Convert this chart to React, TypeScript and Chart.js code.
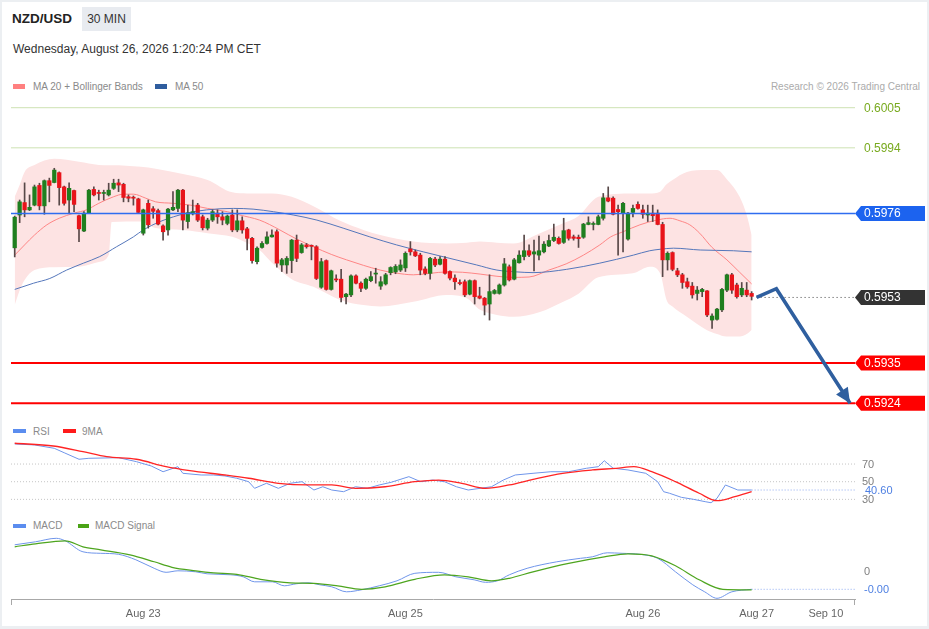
import React, { useEffect, useRef } from 'react';
import { Chart, registerables } from 'chart.js';

Chart.register(...registerables);

const FONT = '"Liberation Sans", Arial, Helvetica, sans-serif';
Chart.defaults.font.family = FONT;

// ---------------- data ----------------
const opens = [
  0.59666, 0.59756, 0.59790, 0.59770, 0.59783, 0.59837, 0.59781, 0.59850, 0.59845, 0.59872,
  0.59833, 0.59797, 0.59823, 0.59754, 0.59712, 0.59762, 0.59826, 0.59817, 0.59815, 0.59811,
  0.59829, 0.59844, 0.59840, 0.59806, 0.59803, 0.59800, 0.59706, 0.59788, 0.59773, 0.59768,
  0.59726, 0.59715, 0.59770, 0.59774, 0.59824, 0.59738, 0.59759, 0.59783, 0.59751, 0.59720,
  0.59742, 0.59761, 0.59751, 0.59733, 0.59756, 0.59715, 0.59740, 0.59718, 0.59692, 0.59628,
  0.59667, 0.59678, 0.59696, 0.59710, 0.59619, 0.59619, 0.59631, 0.59687, 0.59653, 0.59674,
  0.59671, 0.59669, 0.59558, 0.59631, 0.59552, 0.59580, 0.59580, 0.59532, 0.59537, 0.59589,
  0.59569, 0.59555, 0.59576, 0.59594, 0.59561, 0.59567, 0.59598, 0.59600, 0.59605, 0.59611,
  0.59663, 0.59655, 0.59646, 0.59608, 0.59596, 0.59635, 0.59621, 0.59635, 0.59601, 0.59583,
  0.59569, 0.59573, 0.59539, 0.59576, 0.59534, 0.59528, 0.59512, 0.59541, 0.59541, 0.59564,
  0.59614, 0.59580, 0.59625, 0.59642, 0.59658, 0.59649, 0.59646, 0.59655, 0.59671, 0.59686,
  0.59692, 0.59681, 0.59715, 0.59696, 0.59695, 0.59695, 0.59730, 0.59730, 0.59730, 0.59747,
  0.59803, 0.59802, 0.59771, 0.59761, 0.59690, 0.59763, 0.59785, 0.59770, 0.59756, 0.59761,
  0.59761, 0.59730, 0.59633, 0.59653, 0.59603, 0.59592, 0.59573, 0.59561, 0.59541, 0.59546,
  0.59548, 0.59468, 0.59470, 0.59496, 0.59550, 0.59592, 0.59564, 0.59537, 0.59550, 0.59541,
];
const highs = [
  0.59753, 0.59797, 0.59844, 0.59811, 0.59838, 0.59843, 0.59852, 0.59857, 0.59884, 0.59874,
  0.59835, 0.59844, 0.59824, 0.59756, 0.59765, 0.59826, 0.59833, 0.59824, 0.59824, 0.59843,
  0.59854, 0.59854, 0.59843, 0.59811, 0.59808, 0.59802, 0.59772, 0.59797, 0.59779, 0.59772,
  0.59729, 0.59774, 0.59820, 0.59826, 0.59826, 0.59783, 0.59797, 0.59788, 0.59756, 0.59747,
  0.59770, 0.59770, 0.59765, 0.59756, 0.59770, 0.59770, 0.59751, 0.59722, 0.59695, 0.59669,
  0.59683, 0.59710, 0.59715, 0.59715, 0.59637, 0.59642, 0.59689, 0.59701, 0.59678, 0.59678,
  0.59674, 0.59672, 0.59637, 0.59633, 0.59605, 0.59592, 0.59607, 0.59541, 0.59592, 0.59592,
  0.59573, 0.59583, 0.59601, 0.59610, 0.59587, 0.59596, 0.59614, 0.59620, 0.59633, 0.59655,
  0.59683, 0.59660, 0.59651, 0.59614, 0.59640, 0.59640, 0.59642, 0.59642, 0.59603, 0.59592,
  0.59578, 0.59578, 0.59578, 0.59578, 0.59558, 0.59530, 0.59592, 0.59552, 0.59567, 0.59637,
  0.59619, 0.59637, 0.59658, 0.59701, 0.59674, 0.59687, 0.59698, 0.59683, 0.59701, 0.59731,
  0.59696, 0.59747, 0.59717, 0.59701, 0.59701, 0.59733, 0.59751, 0.59737, 0.59756, 0.59815,
  0.59833, 0.59806, 0.59783, 0.59791, 0.59763, 0.59783, 0.59792, 0.59783, 0.59783, 0.59783,
  0.59770, 0.59736, 0.59655, 0.59655, 0.59610, 0.59596, 0.59583, 0.59571, 0.59560, 0.59555,
  0.59549, 0.59485, 0.59500, 0.59555, 0.59594, 0.59596, 0.59569, 0.59571, 0.59571, 0.59546,
];
const lows = [
  0.59641, 0.59735, 0.59751, 0.59768, 0.59781, 0.59770, 0.59758, 0.59792, 0.59844, 0.59783,
  0.59783, 0.59761, 0.59765, 0.59683, 0.59710, 0.59761, 0.59808, 0.59797, 0.59797, 0.59808,
  0.59826, 0.59820, 0.59792, 0.59792, 0.59783, 0.59761, 0.59701, 0.59720, 0.59747, 0.59729,
  0.59687, 0.59701, 0.59768, 0.59765, 0.59715, 0.59720, 0.59756, 0.59738, 0.59715, 0.59715,
  0.59738, 0.59733, 0.59729, 0.59729, 0.59710, 0.59710, 0.59706, 0.59660, 0.59624, 0.59622,
  0.59665, 0.59676, 0.59695, 0.59613, 0.59601, 0.59596, 0.59598, 0.59628, 0.59651, 0.59665,
  0.59633, 0.59579, 0.59555, 0.59550, 0.59550, 0.59573, 0.59518, 0.59512, 0.59532, 0.59567,
  0.59546, 0.59552, 0.59573, 0.59569, 0.59552, 0.59564, 0.59592, 0.59595, 0.59601, 0.59601,
  0.59646, 0.59642, 0.59592, 0.59592, 0.59580, 0.59614, 0.59619, 0.59594, 0.59578, 0.59552,
  0.59564, 0.59532, 0.59537, 0.59512, 0.59526, 0.59482, 0.59468, 0.59539, 0.59539, 0.59561,
  0.59575, 0.59578, 0.59624, 0.59633, 0.59642, 0.59603, 0.59633, 0.59652, 0.59669, 0.59683,
  0.59676, 0.59678, 0.59687, 0.59687, 0.59667, 0.59692, 0.59729, 0.59715, 0.59729, 0.59742,
  0.59792, 0.59756, 0.59646, 0.59655, 0.59687, 0.59751, 0.59772, 0.59747, 0.59738, 0.59738,
  0.59729, 0.59587, 0.59605, 0.59603, 0.59587, 0.59555, 0.59555, 0.59528, 0.59523, 0.59532,
  0.59477, 0.59445, 0.59468, 0.59491, 0.59546, 0.59541, 0.59528, 0.59532, 0.59532, 0.59523,
];
const closes = [
  0.59750, 0.59792, 0.59770, 0.59777, 0.59833, 0.59781, 0.59850, 0.59837, 0.59879, 0.59831,
  0.59788, 0.59829, 0.59785, 0.59718, 0.59761, 0.59824, 0.59811, 0.59815, 0.59816, 0.59824,
  0.59843, 0.59838, 0.59804, 0.59802, 0.59802, 0.59763, 0.59770, 0.59729, 0.59766, 0.59731,
  0.59710, 0.59772, 0.59777, 0.59824, 0.59742, 0.59762, 0.59765, 0.59742, 0.59721, 0.59742,
  0.59765, 0.59751, 0.59742, 0.59753, 0.59715, 0.59740, 0.59715, 0.59692, 0.59631, 0.59665,
  0.59678, 0.59696, 0.59701, 0.59624, 0.59633, 0.59637, 0.59687, 0.59637, 0.59674, 0.59669,
  0.59670, 0.59582, 0.59628, 0.59552, 0.59603, 0.59578, 0.59530, 0.59539, 0.59589, 0.59569,
  0.59555, 0.59580, 0.59587, 0.59595, 0.59573, 0.59592, 0.59612, 0.59615, 0.59619, 0.59651,
  0.59655, 0.59644, 0.59605, 0.59596, 0.59637, 0.59619, 0.59635, 0.59596, 0.59583, 0.59573,
  0.59568, 0.59537, 0.59576, 0.59532, 0.59528, 0.59509, 0.59546, 0.59549, 0.59564, 0.59622,
  0.59578, 0.59633, 0.59646, 0.59658, 0.59646, 0.59655, 0.59658, 0.59676, 0.59686, 0.59695,
  0.59678, 0.59713, 0.59692, 0.59692, 0.59691, 0.59731, 0.59735, 0.59731, 0.59751, 0.59803,
  0.59794, 0.59758, 0.59765, 0.59788, 0.59761, 0.59774, 0.59774, 0.59758, 0.59761, 0.59754,
  0.59730, 0.59633, 0.59651, 0.59607, 0.59592, 0.59571, 0.59559, 0.59537, 0.59550, 0.59552,
  0.59482, 0.59479, 0.59498, 0.59552, 0.59592, 0.59550, 0.59532, 0.59555, 0.59537, 0.59533,
];

// [candle index, value]
const ma20: [number, number][] = [
  [0, 0.59646], [2, 0.59674], [4, 0.59701], [6.5, 0.59729], [9, 0.59747], [12, 0.59761], [14.5, 0.5977],
  [17, 0.59788], [20, 0.59806], [22, 0.59813], [24, 0.59813], [26.5, 0.59802], [28.5, 0.59792], [32, 0.59788],
  [35.5, 0.59783], [39, 0.59774], [43, 0.59765], [45.5, 0.59756], [49.5, 0.59742], [51.5, 0.5973], [53.6, 0.59715],
  [57, 0.5969], [60.4, 0.59669], [64, 0.59648], [67.1, 0.59633], [70.5, 0.59618], [73.9, 0.59605], [77, 0.59597],
  [80.6, 0.59592], [84, 0.59596], [87.3, 0.596], [90.5, 0.59599], [94.1, 0.59594], [97.5, 0.59588], [100.8, 0.59585],
  [104, 0.59586], [108, 0.59605], [111.5, 0.59622], [115, 0.59646], [118.3, 0.59674], [120.5, 0.59696], [123, 0.5971],
  [126.4, 0.59729], [129.8, 0.59742], [132.5, 0.59747], [134.5, 0.5974], [136.5, 0.59729], [138.5, 0.59706],
  [141, 0.59667], [144, 0.59633], [146.5, 0.596], [149, 0.59567],
];
const ma50: [number, number][] = [
  [0, 0.59552], [3.8, 0.59569], [7.1, 0.59582], [10.5, 0.59605], [13.9, 0.59624], [17.2, 0.59642], [20.6, 0.59669],
  [24, 0.59696], [26, 0.59715], [29.4, 0.59738], [32.1, 0.59751], [34.8, 0.59761], [38.8, 0.5977], [44.2, 0.59774],
  [48.2, 0.59772], [52.3, 0.59765], [56.3, 0.59756], [61.1, 0.59742], [66.4, 0.5972], [71.8, 0.59696], [77.2, 0.59674],
  [82.6, 0.59655], [88, 0.59637], [93.4, 0.59619], [97.5, 0.59605], [101.5, 0.596], [104.8, 0.59598], [111.6, 0.59607],
  [118.3, 0.59624], [125.1, 0.59646], [128.4, 0.59658], [130.5, 0.59662], [133.2, 0.59665], [138.6, 0.5966],
  [145.3, 0.59658], [149, 0.59655],
];
const bandIdx = [
  0, 1, 2, 4, 8, 13, 17, 19, 19.6, 25.5, 28.5, 34, 39, 44, 47, 49.5, 52, 56, 60.4, 65.8, 70.5, 73.9,
  80.6, 87.3, 91.4, 94.1, 97.5, 100.8, 106.2, 110.9, 114, 118, 125, 128.4, 130.5, 131.8, 133, 135.9,
  139.9, 142, 143.9, 146.6, 148, 149,
];
const bandUpper = [
  0.59806, 0.59838, 0.59874, 0.59893, 0.5991, 0.59902, 0.59893, 0.59892, 0.59892, 0.59888, 0.59883, 0.59868,
  0.59852, 0.59818, 0.59815, 0.59815, 0.59815, 0.59806, 0.5978, 0.5974, 0.59715, 0.59701, 0.59683, 0.59678,
  0.5968, 0.59683, 0.5968, 0.59678, 0.59706, 0.59733, 0.59753, 0.59806, 0.59815, 0.59815, 0.5982, 0.5984,
  0.59852, 0.59874, 0.59879, 0.59879, 0.59855, 0.59805, 0.59756, 0.59701,
];
const bandLower = [
  0.59509, 0.5955, 0.59578, 0.59605, 0.59613, 0.59614, 0.59627, 0.59646, 0.59737, 0.59738, 0.5972, 0.59715,
  0.59706, 0.59696, 0.59679, 0.5966, 0.59625, 0.5958, 0.59559, 0.59523, 0.59509, 0.59505, 0.59518, 0.59537,
  0.59528, 0.59496, 0.59482, 0.59477, 0.5949, 0.59518, 0.5954, 0.59585, 0.59596, 0.59614, 0.59596, 0.59523,
  0.59505, 0.59477, 0.59441, 0.5943, 0.59423, 0.59423, 0.5943, 0.59441,
];
const rsi: [number, number][] = [
  [0, 92.7], [4, 91.6], [8, 87.8], [10, 82.8], [13, 75.4], [15, 76.5], [21, 77.2], [24.6, 72.7], [27.6, 67.8],
  [30, 61.3], [33, 67.0], [34, 59.5], [37.7, 57.6], [40.2, 57.6], [42.5, 56.5], [44.9, 53.9], [47.3, 50.0],
  [48.5, 42.5], [50.9, 48.2], [53.3, 42.5], [55.7, 48.2], [58.1, 50.0], [60.5, 40.6], [62.3, 44.3], [64.1, 40.6],
  [66.5, 38.7], [68.9, 44.3], [71.3, 42.5], [73.7, 46.3], [76.1, 49.3], [79.7, 55.7], [82.1, 50.0], [84.5, 51.9],
  [86.9, 50.0], [89.3, 44.3], [91.7, 40.6], [94.1, 42.5], [96.4, 44.3], [98.8, 51.9], [101.2, 57.6], [104.8, 59.5],
  [108.4, 61.3], [112, 61.3], [115.6, 65.2], [118, 67.0], [119.2, 73.8], [121, 65.2], [124, 63.3], [127.6, 59.5],
  [130, 50.0], [131.2, 38.7], [132.4, 36.9], [134.8, 32.3], [137.2, 30.1], [139.6, 27.4], [140.8, 26.2], [142, 31.2],
  [143.7, 46.3], [146.2, 40.6], [149, 40.6],
];
const rsiMa: [number, number][] = [
  [0, 93.5], [7.8, 90.4], [13.8, 84.0], [18.6, 78.3], [24.6, 75.4], [30.6, 67.0], [35.4, 62.5], [42.5, 57.6],
  [47.3, 53.9], [53.3, 48.2], [59.3, 46.3], [64.1, 46.3], [68.9, 42.5], [74.9, 44.3], [80.9, 50.0], [85.7, 51.9],
  [90.4, 48.2], [95.2, 42.5], [100, 46.3], [104.8, 52.7], [110.8, 59.5], [116.8, 63.3], [121.6, 65.2], [125.2, 67.0],
  [128.8, 61.3], [133.6, 50.0], [138.4, 36.9], [142, 28.5], [145.6, 33.0], [149, 38.7],
];
const macd: [number, number][] = [
  [0, 0.00055], [4.2, 0.00061], [8.4, 0.00068], [10.2, 0.00063], [13.8, 0.00041], [17.4, 0.00038], [21, 0.00036],
  [24.5, 0.00025], [28.2, 0.00008], [30.6, 0.0], [33, 0.00003], [36.6, 0.00001], [38.9, -0.00003], [43.7, -0.00005],
  [46.2, -0.00009], [48.5, -0.00019], [52.1, -0.00019], [54.5, -0.00027], [56.9, -0.00023], [59.3, -0.00021],
  [61.7, -0.00025], [64.1, -0.00029], [67.1, -0.00039], [70.1, -0.00035], [73.7, -0.00027], [77.3, -0.00017],
  [80.9, -0.00002], [85.7, 0.0], [89.2, -0.00009], [92.9, -0.00015], [95.2, -0.0002], [97.6, -0.00017], [100, -0.00005],
  [103.6, 0.00008], [109.6, 0.00021], [114.4, 0.00028], [116.8, 0.00031], [119.8, 0.00039], [122.8, 0.00038],
  [126.4, 0.00036], [130, 0.00028], [133.6, 0.00001], [137.1, -0.00025], [139.5, -0.00039], [142, -0.00052],
  [145, -0.00039], [149, -0.00034],
];
const macdSignal: [number, number][] = [
  [0, 0.00051], [4.2, 0.00057], [10.2, 0.00063], [13.8, 0.00051], [17.4, 0.00045], [23.3, 0.00035], [28.2, 0.00021],
  [31.8, 0.0001], [36.6, 0.00003], [40.2, -0.00001], [44.9, -0.00004], [49.7, -0.00014], [55.7, -0.00021],
  [60.5, -0.00022], [65.3, -0.00027], [70.1, -0.00034], [74.9, -0.00029], [80.9, -0.00014], [86.9, -0.00005],
  [91.7, -0.00009], [96.4, -0.00017], [100, -0.00012], [104.8, 0.00001], [112, 0.00018], [119.2, 0.00031],
  [124, 0.00037], [128.8, 0.00033], [133.6, 0.00013], [138.4, -0.00015], [143.2, -0.00034], [149, -0.00035],
];

const resistanceLevels = [0.6005, 0.5994];
const pivotLevel = 0.5976;
const lastPriceLevel = 0.5953;
const supportLevels = [0.5935, 0.5924];
const forecastPath: [number, number][] = [[150, 0.5953], [154, 0.59554], [168.9, 0.5924]];
const rsiLevels = [70, 50, 30];
const tickIndex = [26, 79, 127, 150, 164];
const tickLabels = ['Aug 23', 'Aug 25', 'Aug 26', 'Aug 27', 'Sep 10'];

// ---------------- layout / style ----------------
const X_MIN = -0.75;
const X_MAX = 169.9;
const PAD = { left: 11, right: 74, top: 0, bottom: 0 };
const GREEN = '#1f7f1f';
const RED = '#e8141a';
const WICK = '#584848';
const ARROW = '#2f5f9f';
const BLUE_IND = '#6f95ea';

const pts = (a: [number, number][]) => a.map(([x, y]) => ({ x, y }));
const hline = (v: number, x0 = X_MIN) => [{ x: x0, y: v }, { x: X_MAX, y: v }];
const lineDs = (data: any, color: string, width: number, order: number, extra: any = {}) => ({
  type: 'line', data, borderColor: color, borderWidth: width, pointRadius: 0, fill: false, order, ...extra,
});

const baseOptions = (ymin: number, ymax: number) => ({
  animation: false,
  responsive: true,
  maintainAspectRatio: false,
  events: [],
  layout: { padding: PAD },
  plugins: { legend: { display: false }, tooltip: { enabled: false } },
  scales: {
    x: { type: 'linear', min: X_MIN, max: X_MAX, display: false, offset: false },
    y: { min: ymin, max: ymax, display: false },
  },
});

function drawTag(ctx: CanvasRenderingContext2D, x: number, y: number, color: string, text: string) {
  ctx.fillStyle = color;
  ctx.beginPath();
  ctx.moveTo(x, y);
  ctx.lineTo(x + 6, y - 7.5);
  ctx.lineTo(x + 70, y - 7.5);
  ctx.lineTo(x + 70, y + 7.5);
  ctx.lineTo(x + 6, y + 7.5);
  ctx.closePath();
  ctx.fill();
  ctx.fillStyle = '#ffffff';
  ctx.fillText(text, x + 9, y + 0.5);
}

const mainOverlay = {
  id: 'mainOverlay',
  afterDraw(chart: any) {
    const { ctx, chartArea, scales } = chart;
    const ys = scales.y;
    const xs = scales.x;
    const r = chartArea.right;
    ctx.save();
    ctx.font = `12px ${FONT}`;
    ctx.textBaseline = 'middle';
    ctx.textAlign = 'left';
    resistanceLevels.forEach((v) => {
      ctx.fillStyle = '#79aa1f';
      ctx.fillText(v.toFixed(4), r + 9, ys.getPixelForValue(v) + 0.5);
    });
    drawTag(ctx, r, ys.getPixelForValue(pivotLevel), '#1c63ef', pivotLevel.toFixed(4));
    drawTag(ctx, r, ys.getPixelForValue(lastPriceLevel), '#333333', lastPriceLevel.toFixed(4));
    supportLevels.forEach((v) => drawTag(ctx, r, ys.getPixelForValue(v), '#ff0000', v.toFixed(4)));
    // arrow head of forecast
    const n = forecastPath.length;
    const ax = xs.getPixelForValue(forecastPath[n - 2][0]);
    const ay = ys.getPixelForValue(forecastPath[n - 2][1]);
    const bx = xs.getPixelForValue(forecastPath[n - 1][0]);
    const by = ys.getPixelForValue(forecastPath[n - 1][1]);
    const ang = Math.atan2(by - ay, bx - ax);
    const L = 15;
    const H = 7;
    const cx = bx - L * Math.cos(ang);
    const cy = by - L * Math.sin(ang);
    ctx.fillStyle = ARROW;
    ctx.beginPath();
    ctx.moveTo(bx, by);
    ctx.lineTo(cx + H * Math.sin(ang), cy - H * Math.cos(ang));
    ctx.lineTo(cx - H * Math.sin(ang), cy + H * Math.cos(ang));
    ctx.closePath();
    ctx.fill();
    ctx.restore();
  },
};

const rsiOverlay = {
  id: 'rsiOverlay',
  afterDraw(chart: any) {
    const { ctx, chartArea, scales } = chart;
    const r = chartArea.right;
    ctx.save();
    ctx.font = `11px ${FONT}`;
    ctx.textBaseline = 'middle';
    ctx.fillStyle = '#808080';
    rsiLevels.forEach((v) => ctx.fillText(String(v), r + 7, scales.y.getPixelForValue(v) + 0.5));
    const last = rsi[rsi.length - 1][1];
    ctx.fillStyle = '#4d7fe2';
    ctx.fillText(last.toFixed(2), r + 10, scales.y.getPixelForValue(last) + 0.5);
    ctx.restore();
  },
};

const macdOverlay = {
  id: 'macdOverlay',
  afterDraw(chart: any) {
    const { ctx, chartArea, scales } = chart;
    const r = chartArea.right;
    ctx.save();
    ctx.font = `11px ${FONT}`;
    ctx.textBaseline = 'middle';
    ctx.fillStyle = '#808080';
    ctx.fillText('0', r + 9, scales.y.getPixelForValue(0));
    const last = macd[macd.length - 1][1];
    ctx.fillStyle = '#4d7fe2';
    ctx.fillText(last.toFixed(2), r + 9, scales.y.getPixelForValue(last) + 0.5);
    // axis end ticks
    ctx.strokeStyle = '#a8a8a8';
    ctx.lineWidth = 1;
    ctx.beginPath();
    [chartArea.left + 0.5, chartArea.right - 0.5].forEach((x) => {
      ctx.moveTo(x, chartArea.bottom);
      ctx.lineTo(x, chartArea.bottom + 6);
    });
    ctx.stroke();
    ctx.restore();
  },
};

function mainConfig(): any {
  const wickData = opens.map((_, i) => ({ x: i, y: [lows[i], highs[i]] }));
  const bodyData = opens.map((o, i) => ({ x: i, y: [o, closes[i]] }));
  const bodyColors = opens.map((o, i) => (closes[i] >= o ? GREEN : RED));
  return {
    type: 'bar',
    data: {
      datasets: [
        lineDs(bandIdx.map((x, i) => ({ x, y: bandUpper[i] })), 'rgba(0,0,0,0)', 0, 30, {
          fill: '+1', backgroundColor: '#fde3e3', cubicInterpolationMode: 'monotone',
        }),
        lineDs(bandIdx.map((x, i) => ({ x, y: bandLower[i] })), 'rgba(0,0,0,0)', 0, 30, {
          cubicInterpolationMode: 'monotone',
        }),
        lineDs(pts(ma50), '#5577bb', 1, 20, { cubicInterpolationMode: 'monotone' }),
        lineDs(pts(ma20), '#ff8686', 1, 20, { cubicInterpolationMode: 'monotone' }),
        {
          type: 'bar', data: wickData, backgroundColor: WICK, barThickness: 1, grouped: false, order: 12,
        },
        {
          type: 'bar', data: bodyData, backgroundColor: bodyColors, barThickness: 3.6, grouped: false,
          minBarLength: 1, order: 11,
        },
        ...resistanceLevels.map((v) => lineDs(hline(v), '#cde2b2', 1, 5)),
        lineDs(hline(pivotLevel), '#2f6df0', 1.5, 5),
        ...supportLevels.map((v) => lineDs(hline(v), '#ff0000', 2, 5)),
        lineDs(hline(lastPriceLevel, forecastPath[0][0]), '#444444', 1, 4, { borderDash: [1, 3] }),
        lineDs(pts(forecastPath), ARROW, 3.6, 1, { borderJoinStyle: 'miter' }),
      ],
    },
    options: baseOptions(0.592078, 0.600766),
    plugins: [mainOverlay],
  };
}

function rsiConfig(): any {
  const last = rsi[rsi.length - 1];
  return {
    type: 'line',
    data: {
      datasets: [
        ...rsiLevels.map((v) => lineDs(hline(v), '#c6c6c6', 1, 10, { borderDash: [1, 2] })),
        lineDs(hline(last[1], last[0]), '#8eaaf0', 1, 9, { borderDash: [1, 2] }),
        lineDs(pts(rsi), BLUE_IND, 1, 3),
        lineDs(pts(rsiMa), '#ff2424', 1.3, 2, { cubicInterpolationMode: 'monotone' }),
      ],
    },
    options: baseOptions(22.5, 100.6),
    plugins: [rsiOverlay],
  };
}

function macdConfig(): any {
  const last = macd[macd.length - 1];
  const opts: any = baseOptions(-0.000534, 0.000786);
  opts.scales.x = {
    type: 'linear',
    min: X_MIN,
    max: X_MAX,
    offset: false,
    display: true,
    grid: { display: false, drawTicks: false },
    border: { display: true, color: '#a8a8a8', width: 1 },
    afterBuildTicks: (scale: any) => {
      scale.ticks = tickIndex.map((value) => ({ value }));
    },
    afterFit: (scale: any) => {
      scale.height = 30;
    },
    ticks: {
      autoSkip: false,
      maxRotation: 0,
      padding: 8,
      color: '#666666',
      font: { size: 11, family: FONT },
      callback: (_v: any, idx: number) => tickLabels[idx],
    },
  };
  return {
    type: 'line',
    data: {
      datasets: [
        lineDs(hline(last[1], last[0]), '#8eaaf0', 1, 9, { borderDash: [1, 2] }),
        lineDs(pts(macd), BLUE_IND, 1, 3, { cubicInterpolationMode: 'monotone' }),
        lineDs(pts(macdSignal), '#4ea51f', 1.2, 2, { cubicInterpolationMode: 'monotone' }),
      ],
    },
    options: opts,
    plugins: [macdOverlay],
  };
}

const abs = (s: React.CSSProperties): React.CSSProperties => ({ position: 'absolute', whiteSpace: 'nowrap', ...s });

function Swatch({ left, top, color, w = 12, h = 5 }: { left: number; top: number; color: string; w?: number; h?: number }) {
  return <div style={abs({ left, top, width: w, height: h, background: color })} />;
}

function LegendText({ left, top, children }: { left: number; top: number; children: React.ReactNode }) {
  return (
    <div style={abs({ left, top, fontSize: 10, lineHeight: '14px', color: '#8a8a8a' })}>{children}</div>
  );
}

export default function App() {
  const mainRef = useRef<HTMLCanvasElement>(null);
  const rsiRef = useRef<HTMLCanvasElement>(null);
  const macdRef = useRef<HTMLCanvasElement>(null);

  useEffect(() => {
    const charts = [
      new Chart(mainRef.current as HTMLCanvasElement, mainConfig()),
      new Chart(rsiRef.current as HTMLCanvasElement, rsiConfig()),
      new Chart(macdRef.current as HTMLCanvasElement, macdConfig()),
    ];
    return () => charts.forEach((c) => c.destroy());
  }, []);

  return (
    <div
      style={{
        position: 'absolute', left: 0, top: 0, width: 929, height: 629, background: '#ffffff',
        fontFamily: FONT, overflow: 'hidden',
      }}
    >
      <div style={abs({ left: 12, top: 11, fontSize: 13.5, fontWeight: 700, lineHeight: '16px', color: '#222' })}>
        NZD/USD
      </div>
      <div
        style={abs({
          left: 82, top: 7, width: 49, height: 24, background: '#e8ebf0', fontSize: 12, lineHeight: '24px',
          textAlign: 'center', color: '#333',
        })}
      >
        30 MIN
      </div>
      <div style={abs({ left: 13, top: 41, fontSize: 12, lineHeight: '16px', color: '#333' })}>
        Wednesday, August 26, 2026 1:20:24 PM CET
      </div>

      <Swatch left={13} top={84} color="#ff8080" />
      <LegendText left={33} top={80}>MA 20 + Bollinger Bands</LegendText>
      <Swatch left={155} top={84} color="#2f5d9e" />
      <LegendText left={175} top={80}>MA 50</LegendText>
      <div style={abs({ right: 9, top: 80, fontSize: 10, lineHeight: '14px', color: '#ababab' })}>
        Research © 2026 Trading Central
      </div>

      <div style={abs({ left: 0, top: 98, width: 929, height: 317 })}>
        <canvas ref={mainRef} />
      </div>

      <Swatch left={13} top={429} w={13} h={4} color="#5b8def" />
      <LegendText left={33} top={425}>RSI</LegendText>
      <Swatch left={63} top={429} w={13} h={4} color="#ff1a1a" />
      <LegendText left={82} top={425}>9MA</LegendText>
      <div style={abs({ left: 0, top: 437, width: 929, height: 69 })}>
        <canvas ref={rsiRef} />
      </div>

      <Swatch left={13} top={524} w={13} h={4} color="#5b8def" />
      <LegendText left={33} top={519}>MACD</LegendText>
      <Swatch left={78} top={524} w={11} h={4} color="#4aa316" />
      <LegendText left={95} top={519}>MACD Signal</LegendText>
      <div style={abs({ left: 0, top: 533, width: 929, height: 96 })}>
        <canvas ref={macdRef} />
      </div>

      <div
        style={abs({
          left: 0, top: 0, width: 929, height: 629, boxSizing: 'border-box', pointerEvents: 'none',
          borderStyle: 'solid', borderColor: '#eceff2', borderWidth: '2px 2px 3px 2px',
        })}
      />
    </div>
  );
}
